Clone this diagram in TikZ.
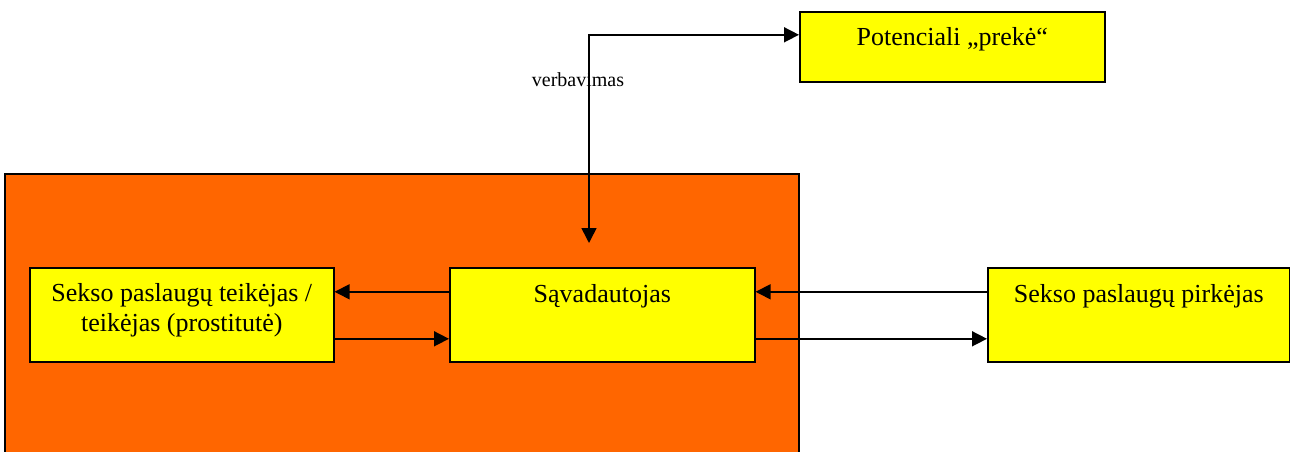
\documentclass[tikz,border=0pt]{standalone}
\usepackage{fontspec}
\setmainfont{Liberation Serif}
\usetikzlibrary{arrows.meta,positioning}

\definecolor{bgorange}{RGB}{255,102,0}
\definecolor{boxyellow}{RGB}{255,255,0}

\begin{document}
\begin{tikzpicture}[x=1pt,y=-1pt,
  box/.style={draw, line width=1.6pt, fill=boxyellow, anchor=north west, inner sep=0pt,
    align=center, font=\fontsize{26}{30}\selectfont},
  tip/.tip={Triangle[length=15pt,width=15pt]},
  arr/.style={line width=1.6pt, -tip}]
\useasboundingbox (0,0) rectangle (1290,452);

% orange background (runs off the bottom)
\draw[line width=1.6pt, fill=bgorange] (5,174) rectangle (799,470);

\node[box, minimum width=305pt, text height=34pt, text depth=36pt] (preke) at (799,11) {Potenciali „prekė“};
\node[box, minimum width=304pt, text height=64pt, text depth=30pt] (prost) at (29,267) {Sekso paslaugų teikėjas /\\ teikėjas (prostitutė)};
\node[box, minimum width=305pt, text height=35pt, text depth=59pt] (sav) at (449,267) {Sąvadautojas};
\node[box, minimum width=302pt, text height=35pt, text depth=59pt] (pirk) at (987,267) {Sekso paslaugų pirkėjas};

\coordinate (verb) at (589,243);
\node[anchor=base, font=\fontsize{20}{24}\selectfont, inner sep=0pt] (verblbl) at (578,86) {verbavimas};

\draw[line width=1.6pt, tip-tip] (verb) |- ([yshift=12pt]preke.west);

\draw[arr] ([yshift=23pt]sav.west) -- ([yshift=23pt]prost.east);
\draw[arr] ([yshift=-24pt]prost.east) -- ([yshift=-24pt]sav.west);
\draw[arr] ([yshift=23pt]pirk.west) -- ([yshift=23pt]sav.east);
\draw[arr] ([yshift=-24pt]sav.east) -- ([yshift=-24pt]pirk.west);
\end{tikzpicture}
\end{document}
